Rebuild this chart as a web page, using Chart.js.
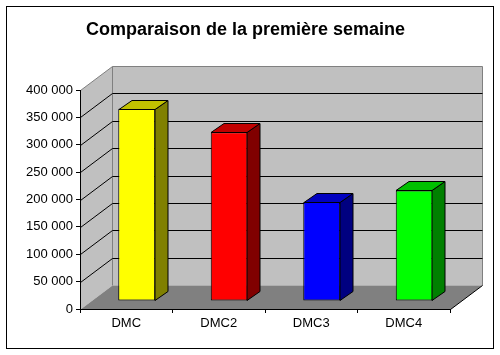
<!DOCTYPE html>
<html>
<head>
<meta charset="utf-8">
<script src="https://cdn.jsdelivr.net/npm/chart.js@4/dist/chart.umd.min.js"></script>
<style>
html,body{margin:0;padding:0;background:#fff;}
canvas{display:block;}
</style>
</head>
<body>
<canvas id="c" width="500" height="355"></canvas>
<script>
// ---- data ----
const categories = ['DMC', 'DMC2', 'DMC3', 'DMC4'];
const values = [351000, 308000, 181000, 202000];
const yMin = 0;
const yMax = 400000;
const yStep = 50000;
const titleText = 'Comparaison de la première semaine';

// ---- styles ----
const frontColors = ['#ffff00', '#ff0000', '#0000ff', '#00ff00'];
const topColors   = ['#c0c000', '#c00000', '#0000c0', '#00c000'];
const sideColors  = ['#808000', '#800000', '#000080', '#008000'];

const WALL_DX = 32, WALL_DY = 24;   // depth of walls
const BAR_SX = 10.5, BAR_SY = 8;    // shift of bar plane
const BAR_DX = 13, BAR_DY = 9;      // depth of bars

function fmt(v){ return String(v).replace(/\B(?=(\d{3})+(?!\d))/g, ' '); }
const c = v => Math.round(v) + 0.5;

function poly(ctx, pts, fill, stroke){
  ctx.beginPath();
  ctx.moveTo(pts[0][0], pts[0][1]);
  for (let i = 1; i < pts.length; i++) ctx.lineTo(pts[i][0], pts[i][1]);
  ctx.closePath();
  if (fill){ ctx.fillStyle = fill; ctx.fill(); }
  if (stroke){ ctx.strokeStyle = stroke; ctx.lineWidth = 1; ctx.stroke(); }
}
function line(ctx, pts, stroke){
  ctx.beginPath();
  ctx.moveTo(pts[0][0], pts[0][1]);
  for (let i = 1; i < pts.length; i++) ctx.lineTo(pts[i][0], pts[i][1]);
  ctx.strokeStyle = stroke; ctx.lineWidth = 1; ctx.stroke();
}

const fake3d = {
  id: 'fake3d',
  beforeDraw(chart){
    const ctx = chart.ctx, xs = chart.scales.x, ys = chart.scales.y;
    const L = c(xs.left), R = c(xs.right);
    const T = c(ys.getPixelForValue(yMax)), B = c(ys.getPixelForValue(yMin));
    ctx.save();
    ctx.fillStyle = '#fff';
    ctx.fillRect(0, 0, chart.width, chart.height);
    // left wall
    poly(ctx, [[L,T],[L+WALL_DX,T-WALL_DY],[L+WALL_DX,B-WALL_DY],[L,B]], '#c0c0c0', null);
    // back wall
    poly(ctx, [[L+WALL_DX,T-WALL_DY],[R+WALL_DX,T-WALL_DY],[R+WALL_DX,B-WALL_DY],[L+WALL_DX,B-WALL_DY]], '#c0c0c0', null);
    // floor
    poly(ctx, [[L,B],[L+WALL_DX,B-WALL_DY],[R+WALL_DX,B-WALL_DY],[R,B]], '#808080', null);
    // wall edges
    line(ctx, [[L,T],[L+WALL_DX,T-WALL_DY],[R+WALL_DX,T-WALL_DY],[R+WALL_DX,B-WALL_DY]], '#808080');
    line(ctx, [[L+WALL_DX,T-WALL_DY],[L+WALL_DX,B-WALL_DY]], '#808080');
    // gridlines
    ys.ticks.forEach(t => {
      if (t.value <= yMin || t.value >= yMax) return;
      const y = c(ys.getPixelForValue(t.value));
      line(ctx, [[L,y],[L+WALL_DX,y-WALL_DY],[R+WALL_DX,y-WALL_DY]], '#000');
    });
    // floor right edge
    line(ctx, [[R,B],[R+WALL_DX,B-WALL_DY]], '#000');
    ctx.restore();
  },
  beforeDatasetsDraw(chart){
    chart.ctx.save();
    chart.ctx.translate(BAR_SX, -BAR_SY);
  },
  afterDatasetsDraw(chart){
    const ctx = chart.ctx;
    const meta = chart.getDatasetMeta(0);
    meta.data.forEach((el, i) => {
      const p = el.getProps(['x','y','base','width'], true);
      const l = Math.round(p.x - p.width/2) + 0.5;
      const r = Math.round(p.x + p.width/2) - 0.5;
      const t = Math.round(p.y) + 0.5;
      const b = Math.round(p.base) - 0.5;
      poly(ctx, [[r,t],[r+BAR_DX,t-BAR_DY],[r+BAR_DX,b-BAR_DY],[r,b]], sideColors[i], '#000');
      poly(ctx, [[l,t],[l+BAR_DX,t-BAR_DY],[r+BAR_DX,t-BAR_DY],[r,t]], topColors[i], '#000');
    });
    ctx.restore();
  },
  afterDraw(chart){
    const ctx = chart.ctx;
    ctx.save();
    ctx.strokeStyle = '#000';
    ctx.lineWidth = 1;
    ctx.strokeRect(6.5, 6.5, 487, 342);
    ctx.restore();
  }
};

Chart.defaults.font.family = '"Liberation Sans", Arial, sans-serif';
Chart.defaults.color = '#000';

new Chart(document.getElementById('c'), {
  type: 'bar',
  data: {
    labels: categories,
    datasets: [{
      data: values,
      backgroundColor: frontColors,
      borderColor: '#000',
      borderWidth: 1,
      borderSkipped: false,
      categoryPercentage: 1,
      barPercentage: 0.4,
      clip: false
    }]
  },
  options: {
    responsive: false,
    animation: false,
    devicePixelRatio: 1,
    layout: { autoPadding: false, padding: { left: 0, right: 9, top: 0, bottom: 0 } },
    plugins: {
      legend: { display: false },
      tooltip: { enabled: false },
      title: {
        display: true,
        text: titleText,
        color: '#000',
        font: { size: 18, weight: 'bold', lineHeight: 1.2 },
        padding: { top: 19.7, bottom: 48.7 }
      }
    },
    scales: {
      x: {
        afterFit(s){ s.height = 46; },
        grid: { drawOnChartArea: false, tickLength: 4, color: '#000', offset: true },
        border: { display: true, color: '#000' },
        ticks: { font: { size: 13 }, padding: 3, color: '#000' }
      },
      y: {
        min: yMin, max: yMax,
        afterFit(s){ s.width = 80; },
        grid: { drawOnChartArea: false, tickLength: 4, color: '#000' },
        border: { display: true, color: '#000' },
        ticks: { stepSize: yStep, font: { size: 13 }, padding: 3, color: '#000', callback: v => fmt(v) }
      },
      yR: {
        position: 'right',
        display: true,
        min: yMin, max: yMax,
        afterFit(s){ s.width = 41; },
        grid: { display: false, drawTicks: false },
        border: { display: false },
        ticks: { display: false }
      }
    }
  },
  plugins: [fake3d]
});
</script>
</body>
</html>
